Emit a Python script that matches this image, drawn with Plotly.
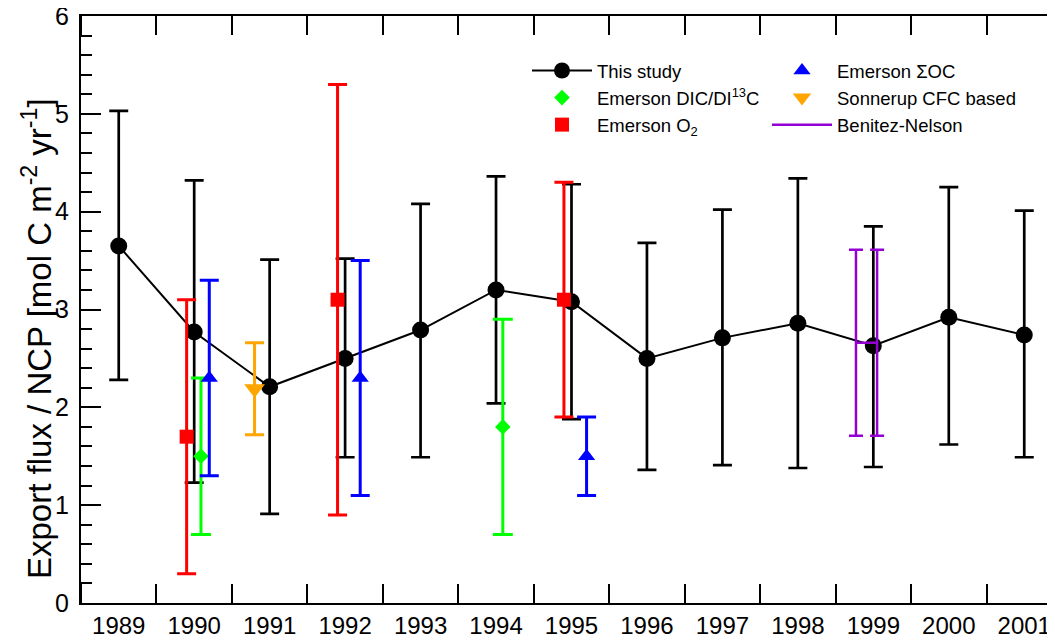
import plotly.graph_objects as go

# ---- data ----
years = [1989, 1990, 1991, 1992, 1993, 1994, 1995, 1996, 1997, 1998, 1999, 2000, 2001]
study_val = [3.65, 2.77, 2.21, 2.50, 2.79, 3.20, 3.08, 2.50, 2.71, 2.86, 2.63, 2.92, 2.74]
study_hi = [5.03, 4.32, 3.51, 3.52, 4.08, 4.36, 4.28, 3.68, 4.02, 4.34, 3.85, 4.25, 4.01]
study_lo = [2.28, 1.23, 0.91, 1.49, 1.49, 2.04, 1.88, 1.36, 1.41, 1.38, 1.39, 1.62, 1.49]

o2_x = [1989.9, 1991.9, 1994.9]
o2_val = [1.7, 3.1, 3.1]
o2_hi = [3.1, 5.3, 4.3]
o2_lo = [0.3, 0.9, 1.9]

dic_x = [1990.09, 1994.09]
dic_val = [1.5, 1.8]
dic_hi = [2.3, 2.9]
dic_lo = [0.7, 0.7]

soc_x = [1990.2, 1992.2, 1995.2]
soc_val = [2.3, 2.3, 1.5]
soc_hi = [3.3, 3.5, 1.9]
soc_lo = [1.3, 1.1, 1.1]

cfc_x = [1990.8]
cfc_val = [2.19]
cfc_hi = [2.66]
cfc_lo = [1.72]

bn_x = [1998.77, 1999.05]
bn_val = [2.66, 2.66]
bn_hi = [3.61, 3.61]
bn_lo = [1.71, 1.71]

tick_labels = [str(y) for y in years]
half_years = [y + 0.5 for y in [1988] + years]
y_title = "Export flux / NCP [mol C m<sup>-2</sup> yr<sup>-1</sup>]"


def err(vals, hi, lo, color, thick, width):
    return dict(type="data", symmetric=False,
                array=[h - v for h, v in zip(hi, vals)],
                arrayminus=[v - l for v, l in zip(vals, lo)],
                color=color, thickness=thick, width=width)


FONT = "Liberation Sans, Arial, Helvetica, sans-serif"

fig = go.Figure()
fig.add_trace(go.Scatter(
    x=years, y=study_val, mode="lines+markers", name="This study",
    line=dict(color="black", width=2),
    marker=dict(symbol="circle", size=17, color="black"),
    error_y=err(study_val, study_hi, study_lo, "black", 2.7, 9.5),
    legend="legend"))
fig.add_trace(go.Scatter(
    x=dic_x, y=dic_val, mode="markers", name="Emerson DIC/DI<sup>13</sup>C",
    marker=dict(symbol="diamond", size=12, color="#00ff00"),
    error_y=err(dic_val, dic_hi, dic_lo, "#00ff00", 3, 10),
    legend="legend"))
fig.add_trace(go.Scatter(
    x=o2_x, y=o2_val, mode="markers", name="Emerson O<sub>2</sub>",
    marker=dict(symbol="square", size=14, color="#ff0000"),
    error_y=err(o2_val, o2_hi, o2_lo, "#ff0000", 3, 9.5),
    legend="legend"))
fig.add_trace(go.Scatter(
    x=soc_x, y=soc_val, mode="markers", name="Emerson \u03a3OC",
    marker=dict(symbol="triangle-up", size=15, color="#0000ff"),
    error_y=err(soc_val, soc_hi, soc_lo, "#0000ff", 3, 9.5),
    legend="legend2"))
fig.add_trace(go.Scatter(
    x=cfc_x, y=cfc_val, mode="markers", name="Sonnerup CFC based",
    marker=dict(symbol="triangle-down", size=18, color="#ffa500"),
    error_y=err(cfc_val, cfc_hi, cfc_lo, "#ffa500", 3, 9.5),
    legend="legend2"))
fig.add_trace(go.Scatter(
    x=bn_x, y=bn_val, mode="lines", name="Benitez-Nelson",
    line=dict(color="#9400d3", width=2.5),
    error_y=err(bn_val, bn_hi, bn_lo, "#9400d3", 2.5, 7),
    legend="legend2"))

# page body has an 8px default margin; figure coords = screen coords - 8
W, H = 1047, 632
L, T, B, R = 73, 8, 37, 0
PW = W - L - R
PH = H - T - B
SCALE = 75.46  # px per year in the reference
x_end = 1988.5 + PW / SCALE


def px(xs):
    return (xs - 8 - L) / PW


def py(ys):
    return (H - B - (ys - 8)) / PH


IW = 60
fig.update_layout(
    width=W, height=H,
    margin=dict(l=L, r=R, t=T, b=B, autoexpand=False),
    paper_bgcolor="white", plot_bgcolor="white",
    font=dict(family=FONT, color="black"),
    showlegend=True,
    legend=dict(x=px(597 - IW - 10), y=py(52), xanchor="left", yanchor="top",
                bgcolor="rgba(0,0,0,0)", font=dict(size=18.5, family=FONT),
                tracegroupgap=0, itemwidth=IW),
    legend2=dict(x=px(837 - IW - 10), y=py(52), xanchor="left", yanchor="top",
                 bgcolor="rgba(0,0,0,0)", font=dict(size=18.5, family=FONT),
                 tracegroupgap=0, itemwidth=IW),
    xaxis=dict(range=[1988.5, x_end], tickmode="array", tickvals=years, ticktext=tick_labels,
               ticks="", showgrid=False, zeroline=False, ticklabeloverflow="allow",
               showline=True, linewidth=2, linecolor="black", mirror="allticks",
               tickfont=dict(size=24, family=FONT),
               minor=dict(tickmode="array", tickvals=half_years, ticks="inside",
                          ticklen=19, tickwidth=1.5, tickcolor="black", showgrid=False)),
    yaxis=dict(range=[0, 6], dtick=1, ticks="inside", ticklen=20, tickwidth=2,
               tickcolor="black", showgrid=False, zeroline=False, ticklabeloverflow="allow",
               showline=True, linewidth=2, linecolor="black", mirror=False,
               tickfont=dict(size=25, family=FONT), ticklabelstandoff=5,
               minor=dict(dtick=0.2, ticks="inside", ticklen=11, tickwidth=1.5,
                          tickcolor="black", showgrid=False)),
    yaxis2=dict(range=[0, 6], dtick=1, overlaying="y", side="right", anchor="x",
                ticks="inside", ticklen=13, tickwidth=2, tickcolor="black",
                showticklabels=False, showgrid=False, zeroline=False, showline=False,
                minor=dict(dtick=0.2, ticks="inside", ticklen=3, tickwidth=1.5,
                           tickcolor="black", showgrid=False)),
    annotations=[dict(text=y_title, textangle=-90, xref="paper", yref="paper",
                      x=px(37), y=py(339), xanchor="center", yanchor="middle",
                      showarrow=False, font=dict(size=33, family=FONT))],
)

fig.write_html("out.html")
